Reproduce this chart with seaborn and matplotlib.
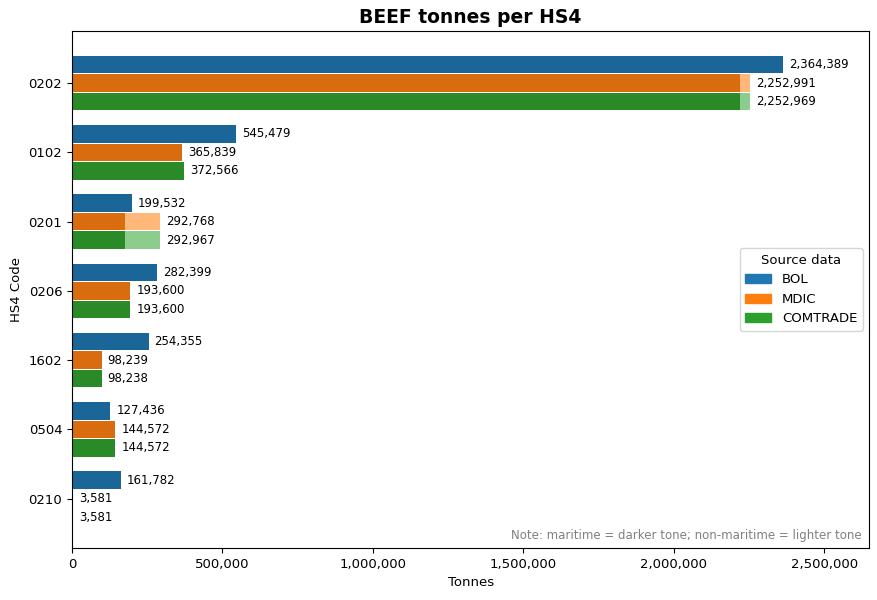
import numpy as np
import pandas as pd
import matplotlib
matplotlib.use("Agg")
import matplotlib.pyplot as plt
import seaborn as sns
from matplotlib.patches import Patch

codes = ["0202", "0102", "0201", "0206", "1602", "0504", "0210"]
sources = ["BOL", "MDIC", "COMTRADE"]
total = {
    "BOL": [2364389, 545479, 199532, 282399, 254355, 127436, 161782],
    "MDIC": [2252991, 365839, 292768, 193600, 98239, 144572, 3581],
    "COMTRADE": [2252969, 372566, 292967, 193600, 98238, 144572, 3581],
}
maritime = {
    "BOL": [2364389, 545479, 199532, 282399, 254355, 127436, 161782],
    "MDIC": [2221000, 365839, 176000, 193600, 98239, 144572, 3581],
    "COMTRADE": [2221000, 372566, 176000, 193600, 98238, 144572, 3581],
}
dark = {"BOL": "#1b6699", "MDIC": "#d86c0e", "COMTRADE": "#2a8a28"}
light = {"BOL": "#7fb2d9", "MDIC": "#ffb87a", "COMTRADE": "#8ccc8c"}
legend_col = {"BOL": "#1f77b4", "MDIC": "#ff7f0e", "COMTRADE": "#2ca02c"}

rows = []
for s in sources:
    for i, c in enumerate(codes):
        rows.append({"code": c, "source": s, "total": total[s][i], "maritime": maritime[s][i]})
df = pd.DataFrame(rows)

fig, ax = plt.subplots(figsize=(8.78, 6), dpi=100)
W, GAP = 0.8, 0.06
sns.barplot(data=df, x="total", y="code", hue="source", order=codes, hue_order=sources,
            palette=light, width=W, gap=GAP, legend=False, ax=ax, errorbar=None,
            saturation=1, linewidth=0)
sns.barplot(data=df, x="maritime", y="code", hue="source", order=codes, hue_order=sources,
            palette=dark, width=W, gap=GAP, legend=False, ax=ax, errorbar=None,
            saturation=1, linewidth=0)

for j, s in enumerate(sources):
    off = (j - 1) * W / 3
    for i, v in enumerate(total[s]):
        ax.text(v + 20000, i + off, f"{v:,}", va="center", fontsize=8.5)

ax.set_xlim(0, 2650000)
ax.set_ylim(6.71, -0.75)
ax.xaxis.set_major_formatter(matplotlib.ticker.FuncFormatter(lambda x, p: f"{x:,.0f}"))
ax.tick_params(labelsize=9.5)
ax.set_xlabel("Tonnes", fontsize=9.5)
ax.set_ylabel("HS4 Code", fontsize=9.5)
ax.set_title("BEEF tonnes per HS4", fontsize=13.5, fontweight="bold")
ax.legend(handles=[Patch(color=legend_col[s], label=s) for s in sources], title="Source data",
          loc="center right", fontsize=9.5, title_fontsize=9.5)
ax.text(0.99, 0.012, "Note: maritime = darker tone; non-maritime = lighter tone",
        transform=ax.transAxes, ha="right", va="bottom", fontsize=8.5, color="grey")
fig.subplots_adjust(left=0.082, right=0.99, top=0.948, bottom=0.087)
fig.savefig("out.png")
